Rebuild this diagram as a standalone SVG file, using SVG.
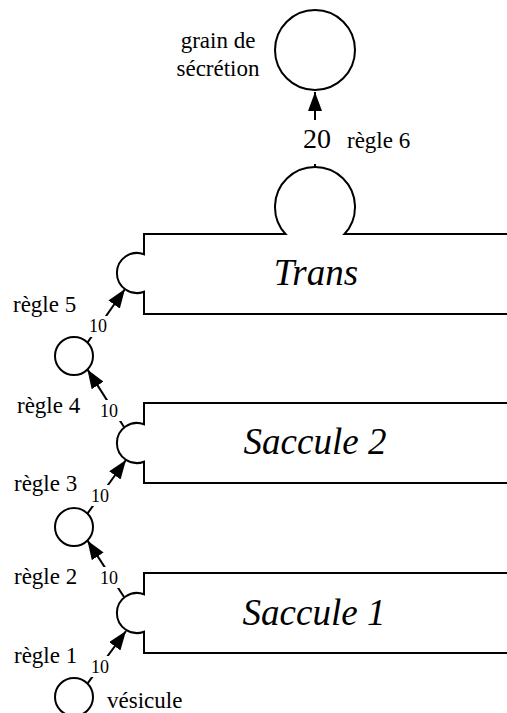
<svg xmlns="http://www.w3.org/2000/svg" width="507" height="713" viewBox="0 0 507 713">
<style>
.ln{fill:none;stroke:#000;stroke-width:2}
.cn{stroke:#000;stroke-width:2;fill:none}
.bg{fill:#fff;stroke:none}
</style>
<defs>
<marker id="ah" markerUnits="userSpaceOnUse" markerWidth="19" markerHeight="14" refX="19" refY="7" orient="auto">
<path d="M0,0 L19,7 L0,14 z" fill="#000"/>
</marker>
</defs>
<rect width="507" height="713" fill="#fff"/>

<g id="grain">
<circle class="ln" cx="315" cy="50" r="40"/>
<text font-family="Liberation Serif" font-size="23" x="218" y="48" text-anchor="middle">grain de</text>
<text font-family="Liberation Serif" font-size="23" x="218" y="76" text-anchor="middle">sécrétion</text>
</g>

<g id="trans">
<path class="ln" d="M510 234 H344.5 A40 40 0 1 0 285.5 234 H144 V254.3 A20 20 0 1 0 144 291.7 V314 H510"/>
<text font-family="Liberation Serif" font-size="37" font-style="italic" x="316" y="285" text-anchor="middle">Trans</text>
</g>

<g id="saccule2">
<path class="ln" d="M510 403 H144 V424.3 A20 20 0 1 0 144 461.7 V483 H510"/>
<text font-family="Liberation Serif" font-size="37" font-style="italic" x="315" y="454" text-anchor="middle">Saccule 2</text>
</g>

<g id="saccule1">
<path class="ln" d="M510 573 H144 V594.3 A20 20 0 1 0 144 631.7 V653 H510"/>
<text font-family="Liberation Serif" font-size="37" font-style="italic" x="314" y="625" text-anchor="middle">Saccule 1</text>
</g>

<g id="vesicule-a">
<circle class="ln" cx="74" cy="356" r="19"/>
</g>
<g id="vesicule-b">
<circle class="ln" cx="74" cy="527" r="19"/>
</g>
<g id="vesicule">
<circle class="ln" cx="74" cy="697" r="19"/>
<text font-family="Liberation Serif" font-size="23" x="107" y="708">vésicule</text>
</g>

<g id="connectors">
<line class="cn" x1="315" y1="167" x2="315" y2="92" marker-end="url(#ah)"/>
<line class="cn" x1="87.4" y1="342.6" x2="125" y2="289" marker-end="url(#ah)"/>
<line class="cn" x1="124" y1="427" x2="87.4" y2="369.4" marker-end="url(#ah)"/>
<line class="cn" x1="87.4" y1="513.6" x2="126" y2="460" marker-end="url(#ah)"/>
<line class="cn" x1="124" y1="597" x2="87.4" y2="540.4" marker-end="url(#ah)"/>
<line class="cn" x1="87.4" y1="683.6" x2="126" y2="631" marker-end="url(#ah)"/>

<rect class="bg" x="299" y="120" width="36" height="44"/>
<text font-family="Liberation Serif" font-size="28" x="317" y="148" text-anchor="middle">20</text>
<text font-family="Liberation Serif" font-size="23" x="347" y="148">règle 6</text>

<rect class="bg" x="86" y="316" width="24" height="21"/>
<text font-family="Liberation Serif" font-size="18" x="89" y="332">10</text>
<text font-family="Liberation Serif" font-size="23" x="13" y="312">règle 5</text>

<rect class="bg" x="98" y="400" width="24" height="21"/>
<text font-family="Liberation Serif" font-size="18" x="100" y="417">10</text>
<text font-family="Liberation Serif" font-size="23" x="17" y="413">règle 4</text>

<rect class="bg" x="90" y="485" width="22" height="21"/>
<text font-family="Liberation Serif" font-size="18" x="91" y="502">10</text>
<text font-family="Liberation Serif" font-size="23" x="14" y="491">règle 3</text>

<rect class="bg" x="98" y="567" width="24" height="21"/>
<text font-family="Liberation Serif" font-size="18" x="100" y="584">10</text>
<text font-family="Liberation Serif" font-size="23" x="14" y="584">règle 2</text>

<rect class="bg" x="90" y="656" width="22" height="21"/>
<text font-family="Liberation Serif" font-size="18" x="91" y="673">10</text>
<text font-family="Liberation Serif" font-size="23" x="14" y="663">règle 1</text>
</g>
</svg>
